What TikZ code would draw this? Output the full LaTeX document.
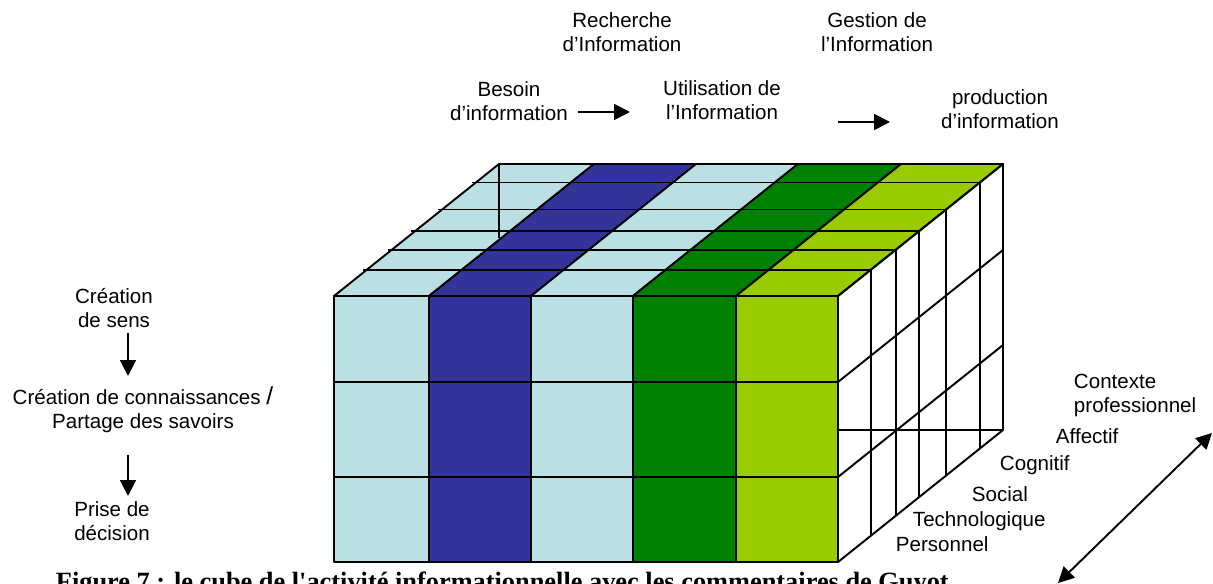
\documentclass[tikz,border=0pt]{standalone}
\usepackage{fontspec}
\setmainfont{Liberation Sans}
\newfontfamily\capfont{Liberation Serif}
\usetikzlibrary{arrows.meta}
\definecolor{cubeblue}{RGB}{187,224,227}
\definecolor{cubeindigo}{RGB}{51,51,153}
\definecolor{cubegreen}{RGB}{0,128,0}
\definecolor{cubelime}{RGB}{153,204,0}

\begin{document}
\begin{tikzpicture}[>={Triangle[length=9pt,width=9pt]}, x=0.02cm, y=-0.02cm, line width=1.1pt,
	every node/.style={inner sep=0pt, align=center, font=\fontsize{11.7}{13.6}\selectfont},
	cell/.style={draw=black, line join=round}]
	\useasboundingbox (0,0) rectangle (1213,584);
	%Front face
	\filldraw[cell,fill=cubeblue] (334,296) rectangle (429,562);
	\filldraw[cell,fill=cubeindigo] (429,296) rectangle (531,562);
	\filldraw[cell,fill=cubeblue] (531,296) rectangle (633,562);
	\filldraw[cell,fill=cubegreen] (633,296) rectangle (736,562);
	\filldraw[cell,fill=cubelime] (736,296) rectangle (838,562);
	\draw (334,382) -- (838,382);
	\draw (334,477) -- (838,477);
	%Top face
	\filldraw[cell,fill=cubeblue] (334,296) -- (499,164) -- (594,164) -- (429,296) -- cycle;
	\filldraw[cell,fill=cubeindigo] (429,296) -- (594,164) -- (696,164) -- (531,296) -- cycle;
	\filldraw[cell,fill=cubeblue] (531,296) -- (696,164) -- (798,164) -- (633,296) -- cycle;
	\filldraw[cell,fill=cubegreen] (633,296) -- (798,164) -- (901,164) -- (736,296) -- cycle;
	\filldraw[cell,fill=cubelime] (736,296) -- (901,164) -- (1003,164) -- (838,296) -- cycle;
	\draw (363,269.6) -- (871,269.6);
	\draw (388,249.8) -- (896,249.8);
	\draw (411,231.3) -- (919,231.3);
	\draw (438,209.5) -- (946,209.5);
	\draw (472,182.5) -- (980,182.5);
	\draw (499,164) -- (499,238);
	%Right face
	\draw[cell] (838,296) -- (1003,164) -- (1003,430) -- (838,562);
	\draw (871,269.6) -- (871,535.6);
	\draw (896,249.8) -- (896,515.8);
	\draw (919,231.3) -- (919,497.3);
	\draw (946,209.5) -- (946,475.5);
	\draw (980,182.5) -- (980,448.5);
	\draw (838,382) -- (1003,250);
	\draw (838,477) -- (1003,345);
	\draw (838,430) -- (1003,430);
	%Activities
	\node (recherche) at (622,32.5) {Recherche\\d’Information};
	\node (gestion) at (877,32.5) {Gestion de\\l’Information};
	\node (besoin) at (509,101) {Besoin\\d’information};
	\node (utilisation) at (722,100) {Utilisation de\\l’Information};
	\node (production) at (1000,109.5) {production\\d’information};
	\coordinate (b1) at (578,112);
	\coordinate (u1) at (630,112);
	\coordinate (u2) at (838,122);
	\coordinate (p2) at (890,122);
	\draw[->] (b1) -- (u1);
	\draw[->] (u2) -- (p2);
	%Knowledge
	\node (sens) at (114,308) {Création\\de sens};
	\node (savoirs) at (143,410) {Création de connaissances {\fontsize{14}{14}\selectfont/}\\Partage des savoirs};
	\node (decision) at (112,521.5) {Prise de\\décision};
	\coordinate (s1) at (128,333);
	\coordinate (k1) at (128,376);
	\coordinate (k2) at (128,455);
	\coordinate (d2) at (128,496);
	\draw[->] (s1) -- (k1);
	\draw[->] (k2) -- (d2);
	%Contexts
	\node [anchor=west, align=left] (contexte) at (1073,395.5) {Contexte\\professionnel};
	\node [anchor=west] (affectif) at (1055,436) {Affectif};
	\node [anchor=west] (cognitif) at (999,465) {Cognitif};
	\node [anchor=west] (social) at (971,494) {Social};
	\node [anchor=west] (techno) at (912,521) {Technologique};
	\node [anchor=west] (personnel) at (895,544) {Personnel};
	\coordinate (c1) at (1058,583);
	\coordinate (c2) at (1212,433);
	\draw[<->] (c1) -- (c2);
	%Caption
	\node [anchor=base west, font=\capfont\bfseries\fontsize{15}{18}\selectfont] (caption) at (55,590.5) {Figure 7 : le cube de l'activité informationnelle avec les commentaires de Guyot};
\end{tikzpicture}
\end{document}
